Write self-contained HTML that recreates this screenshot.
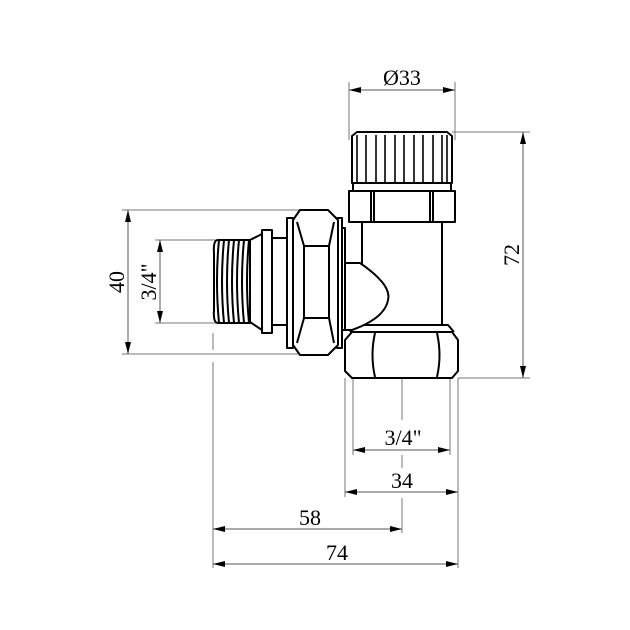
<!DOCTYPE html>
<html><head><style>body{margin:0;background:#fff}svg{display:block}</style></head><body>
<svg width="630" height="630" viewBox="0 0 630 630" xmlns="http://www.w3.org/2000/svg" font-family="Liberation Serif, serif" font-size="22">
<defs><marker id="a" viewBox="0 0 12 6" refX="12" refY="3" markerWidth="12" markerHeight="6" orient="auto-start-reverse" markerUnits="userSpaceOnUse"><path d="M0,0L12,3L0,6z" fill="#000"/></marker></defs>
<g stroke="#777" stroke-width="1" fill="none">
<line x1="349" y1="82" x2="349" y2="140"/><line x1="455" y1="82" x2="455" y2="140"/>
<line x1="452" y1="132" x2="530" y2="132"/><line x1="458" y1="378" x2="530" y2="378"/>
<line x1="122" y1="210" x2="300" y2="210"/><line x1="122" y1="354" x2="300" y2="354"/>
<line x1="155" y1="240" x2="222" y2="240"/><line x1="155" y1="323" x2="222" y2="323"/>
<line x1="353" y1="378" x2="353" y2="455"/><line x1="450" y1="378" x2="450" y2="455"/>
<line x1="345" y1="378" x2="345" y2="497"/><line x1="458" y1="378" x2="458" y2="568"/>
<line x1="213" y1="362" x2="213" y2="568"/>
<line x1="213" y1="333" x2="213" y2="350" />
<line x1="402" y1="340" x2="402" y2="420"/><line x1="402" y1="455" x2="402" y2="468"/><line x1="402" y1="498" x2="402" y2="533"/>
</g>
<g stroke="#555" stroke-width="1" fill="none" marker-start="url(#a)" marker-end="url(#a)">
<line x1="349" y1="90" x2="455" y2="90"/>
<line x1="523" y1="132" x2="523" y2="378"/>
<line x1="128" y1="210" x2="128" y2="354"/>
<line x1="160" y1="240" x2="160" y2="323"/>
<line x1="353" y1="450" x2="450" y2="450"/>
<line x1="345" y1="492" x2="458" y2="492"/>
<line x1="213" y1="529" x2="402" y2="529"/>
<line x1="213" y1="564" x2="458" y2="564"/>
</g>
<g fill="#000" text-anchor="middle">
<text x="402" y="85">Ø33</text>
<text x="403" y="445">3/4"</text>
<text x="402" y="488">34</text>
<text x="310" y="525">58</text>
<text x="337" y="560">74</text>
<text transform="translate(124,282) rotate(-90)">40</text>
<text transform="translate(156,282) rotate(-90)">3/4"</text>
<text transform="translate(519,255) rotate(-90)">72</text>
</g>
<g stroke="#000" stroke-width="2" fill="#fff" stroke-linejoin="round">
<rect x="362" y="220" width="80" height="106"/>
<path d="M350,332 L356,325 H448 L454,332"/>
<path d="M345,340 L352,332 H452 L458,340 V371 L452,378 H352 L345,371 Z"/>
<path d="M375,333 Q370,355 375,377 M437,333 Q442,355 437,377"/>
<path d="M352,136 L357,132 H447 L452,136 V183 H352 Z"/>
<g stroke-width="1.6"><line x1="357" y1="135" x2="357" y2="183"/><line x1="366" y1="135" x2="366" y2="183"/><line x1="376" y1="135" x2="376" y2="183"/><line x1="385" y1="135" x2="385" y2="183"/><line x1="395" y1="135" x2="395" y2="183"/><line x1="404" y1="135" x2="404" y2="183"/><line x1="414" y1="135" x2="414" y2="183"/><line x1="423" y1="135" x2="423" y2="183"/><line x1="433" y1="135" x2="433" y2="183"/><line x1="442" y1="135" x2="442" y2="183"/><line x1="447" y1="135" x2="447" y2="183"/></g>
<rect x="353" y="183" width="98" height="8"/>
<rect x="349" y="191" width="106" height="31"/>
<line x1="371" y1="192" x2="371" y2="222"/><line x1="374" y1="192" x2="374" y2="222"/>
<line x1="430" y1="192" x2="430" y2="222"/><line x1="433" y1="192" x2="433" y2="222"/>
<path d="M343,263 H360 Q392,285 388,300 Q385,318 352,330 H343 Z"/>
<rect x="340" y="228" width="5" height="102"/>
<rect x="337" y="218" width="5" height="130"/>
<rect x="287" y="218" width="6" height="130"/>
<path d="M300,210 H328 L338,220 V345 L328,355 H300 L293,345 V220 Z"/>
<path d="M297,222 L304,246 H329 L334,222 M297,343 L304,318 H329 L334,343"/>
<line x1="304" y1="246" x2="304" y2="318"/><line x1="329" y1="246" x2="329" y2="318"/>
<rect x="272" y="238" width="15" height="87"/>
<rect x="262" y="230" width="10" height="103"/>
<path d="M262,234 L250,240 V322 L262,330 Z"/>
<path d="M218,240 H250 V323 H218 Q213,323 214,310 V253 Q213,240 218,240 Z"/>
<g stroke-width="2" fill="none"><path d="M219,240 Q215,281 219,323 M224,240 Q220,281 224,323 M229,240 Q225,281 229,323 M234,240 Q230,281 234,323 M239,240 Q235,281 239,323 M244,240 Q240,281 244,323 M249,240 Q245,281 249,323"/></g>
</g>
</svg>
</body></html>
